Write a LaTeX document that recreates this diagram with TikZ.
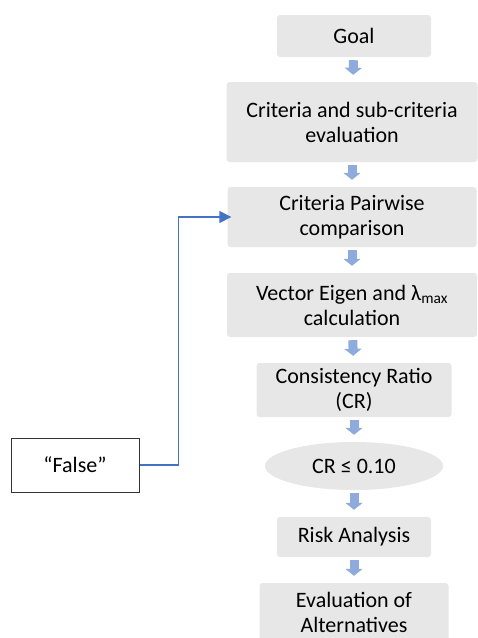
\documentclass[tikz,border=0pt]{standalone}
\usepackage{fontspec}
\setmainfont{Carlito}
\usepackage{xcolor}
\usepackage{tikz}
\usetikzlibrary{shapes.geometric,arrows.meta,calc,positioning}
\definecolor{boxgray}{HTML}{E7E7E7}
\definecolor{arrowblue}{HTML}{8FAADC}
\definecolor{lineblue}{HTML}{4472C4}

\begin{document}
\begin{tikzpicture}[x=1pt,y=-1pt,
  block/.style={fill=boxgray, rounded corners=3pt, align=center, inner sep=0pt,
    font=\fontsize{22}{25}\selectfont},
  decision/.style={ellipse, fill=boxgray, align=center, inner sep=0pt,
    font=\fontsize{22}{25}\selectfont},
  flowarrow/.style={draw=arrowblue, line width=9pt, shorten <=3pt, shorten >=7pt,
    -{Triangle[width=17pt 0 0,length=7pt 0 0]}}]
\useasboundingbox (0,0) rectangle (478,638);
% Nodes
\node[block, minimum width=154, minimum height=42] (goal) at (354,36) {Goal};
\node[block, minimum width=251, minimum height=80] (crit) at (352,122) {Criteria and sub-criteria\\evaluation};
\node[block, minimum width=249, minimum height=60] (pair) at (352,217) {Criteria Pairwise\\comparison};
\node[block, minimum width=250, minimum height=64] (vect) at (352,305) {Vector Eigen and λ\textsubscript{max}\\calculation};
\node[block, minimum width=195, minimum height=54] (cr) at (354,390) {Consistency Ratio\\(CR)};
\node[decision, minimum width=178, minimum height=48] (test) at (354,466) {CR ≤ 0.10};
\node[block, minimum width=154, minimum height=40] (risk) at (354,537) {Risk Analysis};
\node[block, minimum width=189, minimum height=58] (eval) at (354,612) {Evaluation of\\Alternatives};
\node[draw=black!80, line width=1pt, minimum width=128, minimum height=54, inner sep=0pt,
  font=\fontsize{22}{25}\selectfont] (false) at (75,465) {“False”};

% Connectors
\draw[flowarrow] (goal) -- (crit);
\draw[flowarrow] (crit) -- (pair);
\draw[flowarrow] (pair) -- (vect);
\draw[flowarrow] (vect) -- (cr);
\draw[flowarrow] (cr) -- (test);
\draw[flowarrow] (test) -- (risk);
\draw[flowarrow] (risk) -- (eval);
\draw[lineblue, line width=1.5pt, shorten >=-4pt, -{Triangle[width=12pt 0 0,length=12pt 0 0]}]
  (false.east) -- ++(39,0) |- (pair.west);
\end{tikzpicture}
\end{document}
